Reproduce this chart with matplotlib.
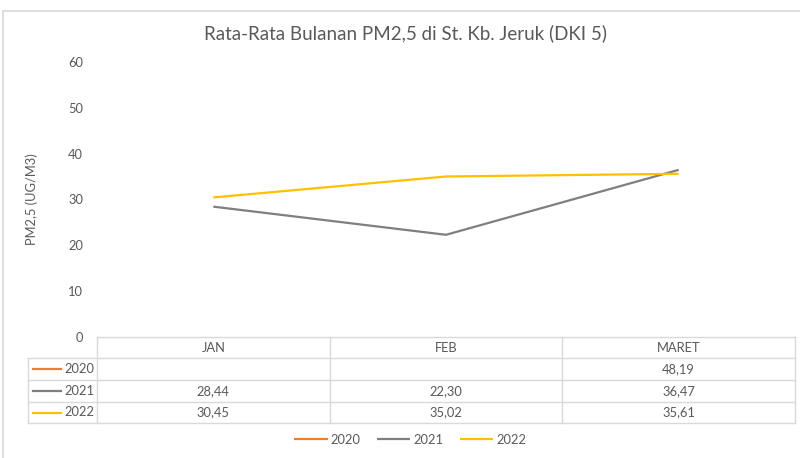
import matplotlib
matplotlib.use("Agg")
import matplotlib.pyplot as plt
import numpy as np
from matplotlib.patches import Rectangle

plt.rcParams['font.family'] = ['Lato', 'DejaVu Sans']

# data
months = ['JAN', 'FEB', 'MARET']
years = ['2020', '2021', '2022']
pm_2020 = [np.nan, np.nan, 48.19]
pm_2021 = [28.44, 22.30, 36.47]
pm_2022 = [30.45, 35.02, 35.61]
colors = ['#ED7D31', '#7F7F7F', '#FFC000']
series = [pm_2020, pm_2021, pm_2022]

W, H = 800, 458
fig = plt.figure(figsize=(W / 100, H / 100), dpi=100)

def fx(px):
    return px / W

def fy(py):
    return 1 - py / H

text_col = '#595959'
grid_col = '#D9D9D9'
fs = 9.3

# outer chart frame
fig.patches.append(Rectangle((fx(3), fy(470)), fx(820), fy(11) - fy(470),
                             transform=fig.transFigure, fill=False,
                             edgecolor=grid_col, linewidth=1.2))

left, right, top, bottom = 97, 795, 62, 337
ax = fig.add_axes([fx(left), fy(bottom), fx(right - left), fy(top) - fy(bottom)])
x = np.arange(len(months))
for vals, c, lab in zip(series, colors, years):
    ax.plot(x, vals, color=c, linewidth=1.6, label=lab, solid_capstyle='butt')

ax.set_xlim(-0.5, len(months) - 0.5)
ax.set_ylim(0, 60)
ax.set_yticks(np.arange(0, 61, 10))
ax.set_xticks([])
for s in ax.spines.values():
    s.set_visible(False)
ax.tick_params(axis='y', length=0, labelsize=fs, labelcolor=text_col, pad=10)
ax.set_ylabel('PM2,5 (UG/M3)', fontsize=fs, color=text_col, labelpad=22)

fig.text(fx(406), fy(33), 'Rata-Rata Bulanan PM2,5 di St. Kb. Jeruk (DKI 5)',
         ha='center', va='center', fontsize=13.5, color=text_col)

# data table below the plot
row_edges = [337, 358, 380, 402, 423]
key_left = 28
col_edges = np.linspace(left, right, len(months) + 1)

def hline(y, x0, x1):
    fig.add_artist(plt.Line2D([fx(x0), fx(x1)], [fy(y), fy(y)],
                              transform=fig.transFigure, color=grid_col, lw=1))

def vline(xp, y0, y1):
    fig.add_artist(plt.Line2D([fx(xp), fx(xp)], [fy(y0), fy(y1)],
                              transform=fig.transFigure, color=grid_col, lw=1))

hline(row_edges[0], left, right)
for y in row_edges[1:]:
    hline(y, key_left, right)
for xp in col_edges:
    vline(xp, row_edges[0], row_edges[-1])
vline(key_left, row_edges[1], row_edges[-1])

for i, m in enumerate(months):
    cx = (col_edges[i] + col_edges[i + 1]) / 2
    cy = (row_edges[0] + row_edges[1]) / 2
    fig.text(fx(cx), fy(cy), m, ha='center', va='center', fontsize=fs, color=text_col)

for r, (vals, c, lab) in enumerate(zip(series, colors, years)):
    cy = (row_edges[r + 1] + row_edges[r + 2]) / 2
    fig.add_artist(plt.Line2D([fx(33), fx(61)], [fy(cy), fy(cy)],
                              transform=fig.transFigure, color=c, lw=1.6))
    fig.text(fx(94), fy(cy), lab, ha='right', va='center', fontsize=fs, color=text_col)
    for i, v in enumerate(vals):
        if np.isnan(v):
            continue
        cx = (col_edges[i] + col_edges[i + 1]) / 2
        fig.text(fx(cx), fy(cy), f'{v:.2f}'.replace('.', ','), ha='center', va='center',
                 fontsize=fs, color=text_col)

leg = fig.legend(loc='center', bbox_to_anchor=(fx(410), fy(440)), ncol=3, frameon=False,
                 fontsize=fs, handlelength=2.6, columnspacing=1.3, handletextpad=0.2)
for t in leg.get_texts():
    t.set_color(text_col)

fig.savefig('out.png', dpi=100)
